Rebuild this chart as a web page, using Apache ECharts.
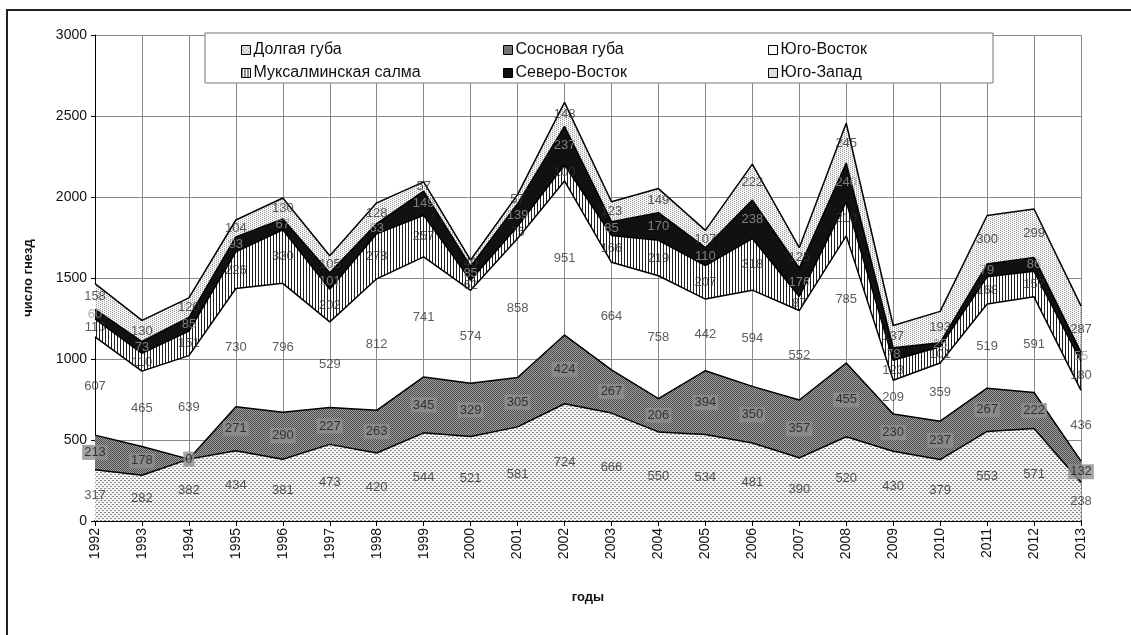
<!DOCTYPE html>
<html>
<head>
<meta charset="utf-8">
<script src="https://cdn.jsdelivr.net/npm/echarts@6/dist/echarts.min.js"></script>
<style>
html,body{margin:0;padding:0;background:#fff;}
#chart{width:1131px;height:635px;}
</style>
</head>
<body>
<div id="chart"></div>
<script>
// ---- data ----
const years = ['1992','1993','1994','1995','1996','1997','1998','1999','2000','2001','2002','2003','2004','2005','2006','2007','2008','2009','2010','2011','2012','2013'];
const seriesNames = ['Долгая губа','Сосновая губа','Юго-Восток','Муксалминская салма','Северо-Восток','Юго-Запад'];
const dolgaya      = [317,282,382,434,381,473,420,544,521,581,724,666,550,534,481,390,520,430,379,553,571,238];
const sosnovaya    = [213,178,0,271,290,227,263,345,329,305,424,267,206,394,350,357,455,230,237,267,222,132];
const yugoVostok   = [607,465,639,730,796,529,812,741,574,858,951,664,758,442,594,552,785,209,359,519,591,436];
const muksalma     = [110,110,151,226,330,202,278,257,62,75,100,166,219,207,318,87,210,123,101,168,157,180];
const severoVostok = [60,73,85,93,67,101,63,149,85,139,237,85,170,110,238,176,240,78,25,79,86,55];
const yugoZapad    = [158,130,120,104,130,105,128,57,40,57,148,123,149,107,222,125,245,137,193,300,299,287];
const yTicks = [0,500,1000,1500,2000,2500,3000];

// ---- patterns ----
function pat(w,h,bg,draw){
  const c=document.createElement('canvas');c.width=w;c.height=h;
  const g=c.getContext('2d');
  if(bg){g.fillStyle=bg;g.fillRect(0,0,w,h);}
  draw(g);
  return {image:c,repeat:'repeat'};
}
const pDolg = pat(4,4,'#f4f4f4',g=>{g.fillStyle='#8a8a8a';g.fillRect(0,0,2,1);g.fillRect(2,2,2,1);});
const pSosn = pat(2,2,'#a0a0a0',g=>{g.fillStyle='#4a4a4a';g.fillRect(0,0,1,1);g.fillRect(1,1,1,1);});
const pYV   = 'rgba(255,255,255,0)';
const pMuks = pat(3,1,'#ffffff',g=>{g.fillStyle='#1e1e1e';g.fillRect(0,0,1,1);});
const pSV   = '#111111';
const pYZ   = pat(4,2,'#f6f6f6',g=>{g.fillStyle='#999';g.fillRect(0,0,1,1);g.fillRect(2,1,1,1);});
const fills = [pDolg,pSosn,pYV,pMuks,pSV,pYZ];
const legendFills = [pDolg,pSosn,'#ffffff',pMuks,pSV,pYZ];
const allData = [dolgaya,sosnovaya,yugoVostok,muksalma,severoVostok,yugoZapad];

const chart = echarts.init(document.getElementById('chart'));
const series = [];
allData.forEach((d,k)=>{
  series.push({
    name:seriesNames[k], type:'line', stack:'total', data:d,
    symbol:'none', smooth:false, z:2,
    lineStyle:{color:'#000',width:1.5},
    itemStyle:{color:'#666'},
    areaStyle:{color:fills[k],opacity:1}
  });
});
// labels centred in bands
allData.forEach((d,k)=>{
  const pts = d.map((v,i)=>{
    let below=0; for(let j=0;j<k;j++) below+=allData[j][i];
    return [i, below+v/2, v];
  });
  series.push({
    type:'scatter', data:pts, symbolSize:0, z:5, silent:true,
    encode:{x:0,y:1},
    label:{show:true,position:'inside',formatter:p=>p.value[2],
      fontFamily:'Liberation Sans, Arial, sans-serif',fontSize:13,
      color: k===4 ? '#9a9a9a' : (k===1 ? '#1a1a1a' : '#333'),
      backgroundColor: k===1 ? '#8e8e8e' : 'transparent', padding: k===1?[1,2]:0}
  });
});

const font='Liberation Sans, Arial, sans-serif';
function legendCol(names,left){
  return {
    orient:'vertical', left:left, top:37, itemWidth:9, itemHeight:9, itemGap:7,
    icon:'rect', selectedMode:false, z:8,
    textStyle:{fontFamily:font,fontSize:16,color:'#111',padding:[0,0,0,-2]},
    data:names.map(n=>({name:n,icon:'rect',itemStyle:{color:legendFills[seriesNames.indexOf(n)],borderColor:'#000',borderWidth:1}}))
  };
}

chart.setOption({
  animation:false,
  backgroundColor:'#fff',
  grid:{left:95,top:35,width:986,height:486},
  legend:[
    legendCol(['Долгая губа','Муксалминская салма'],236),
    legendCol(['Сосновая губа','Северо-Восток'],498),
    legendCol(['Юго-Восток','Юго-Запад'],763)
  ],
  graphic:[
    {type:'rect',z:7,shape:{x:205,y:33,width:788,height:50},style:{fill:'#fff',stroke:'#777',lineWidth:1}},
    {type:'rect',z:9,shape:{x:7,y:10,width:1140,height:640},style:{fill:'none',stroke:'#222',lineWidth:2}}
  ],
  xAxis:{
    type:'category', data:years, boundaryGap:false,
    name:'годы', nameLocation:'middle', nameGap:70,
    nameTextStyle:{fontFamily:font,fontSize:13,fontWeight:'bold',color:'#111'},
    axisLine:{lineStyle:{color:'#000',width:2}},
    axisTick:{show:true,length:5,lineStyle:{color:'#000'}},
    axisLabel:{rotate:90,fontFamily:font,fontSize:14,color:'#111',margin:7},
    splitLine:{show:true,lineStyle:{color:'#888',width:1}}
  },
  yAxis:{
    type:'value', min:yTicks[0], max:yTicks[yTicks.length-1], interval:500,
    name:'число гнезд', nameLocation:'middle', nameGap:60,
    nameTextStyle:{fontFamily:font,fontSize:13,fontWeight:'bold',color:'#111'},
    axisLine:{show:true,lineStyle:{color:'#000',width:1}},
    axisTick:{show:true,length:4,lineStyle:{color:'#000'}},
    axisLabel:{fontFamily:font,fontSize:14,color:'#111',margin:8,formatter:v=>String(v)},
    splitLine:{show:true,lineStyle:{color:'#888',width:1}}
  },
  series:series
});
</script>
</body>
</html>
